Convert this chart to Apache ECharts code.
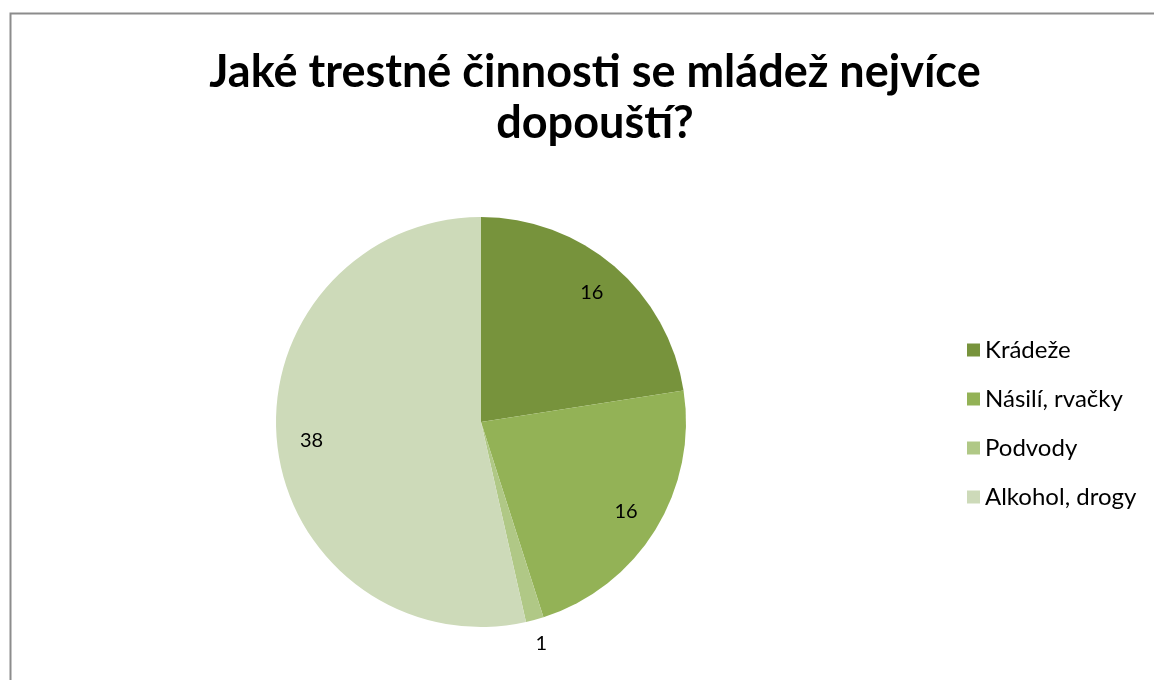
<!DOCTYPE html>
<html>
<head>
<meta charset="utf-8">
<script src="https://cdn.jsdelivr.net/npm/echarts@6/dist/echarts.min.js"></script>
<style>
html,body{margin:0;padding:0;background:#fff;}
#c{width:1154px;height:680px;}
</style>
</head>
<body>
<div id="c"></div>
<script>
var titleText = 'Jaké trestné činnosti se mládež nejvíce\ndopouští?';
var categories = ['Krádeže', 'Násilí, rvačky', 'Podvody', 'Alkohol, drogy'];
var values = [16, 16, 1, 38];
var colors = ['#77933C', '#93B256', '#B0C886', '#CDDAB9'];

var chart = echarts.init(document.getElementById('c'));
var pieData = categories.map(function (n, i) {
  return { name: n, value: values[i], itemStyle: { color: colors[i] } };
});
var labelFont = { fontFamily: 'Lato', fontSize: 20, color: '#000' };
var innerLabelData = categories.map(function (n, i) {
  return { name: n, value: values[i], label: { show: values[i] > 1 } };
});
var outerLabelData = categories.map(function (n, i) {
  return { name: n, value: values[i], label: { show: values[i] <= 1 } };
});
chart.setOption({
  animation: false,
  title: {
    text: titleText,
    left: 590,
    textAlign: 'center',
    top: 42,
    textStyle: { fontFamily: 'Lato', fontWeight: 'bold', fontSize: 45, lineHeight: 51, color: '#000' }
  },
  legend: {
    orient: 'vertical',
    left: 962,
    top: 333,
    itemWidth: 13,
    itemHeight: 13,
    itemGap: 25,
    icon: 'rect',
    data: categories,
    textStyle: { fontFamily: 'Lato', fontSize: 24, color: '#000' }
  },
  graphic: [{
    type: 'rect',
    shape: { x: 10.5, y: 13.5, width: 1200, height: 700 },
    style: { fill: 'none', stroke: '#8c8c8c', lineWidth: 2 },
    silent: true
  }],
  series: [{
    type: 'pie',
    center: [481, 422],
    radius: [0, 205],
    startAngle: 90,
    clockwise: true,
    label: { show: false },
    labelLine: { show: false },
    emphasis: { disabled: true },
    data: pieData
  }, {
    type: 'pie',
    center: [481, 422],
    radius: [130, 205],
    startAngle: 90,
    silent: true,
    legendHoverLink: false,
    itemStyle: { color: 'rgba(0,0,0,0)' },
    label: Object.assign({ position: 'inside', formatter: '{c}' }, labelFont),
    labelLine: { show: false },
    data: innerLabelData
  }, {
    type: 'pie',
    center: [481, 422],
    radius: [210, 244],
    startAngle: 90,
    silent: true,
    legendHoverLink: false,
    itemStyle: { color: 'rgba(0,0,0,0)' },
    label: Object.assign({ position: 'inside', formatter: '{c}' }, labelFont),
    labelLine: { show: false },
    data: outerLabelData
  }]
});
</script>
</body>
</html>
